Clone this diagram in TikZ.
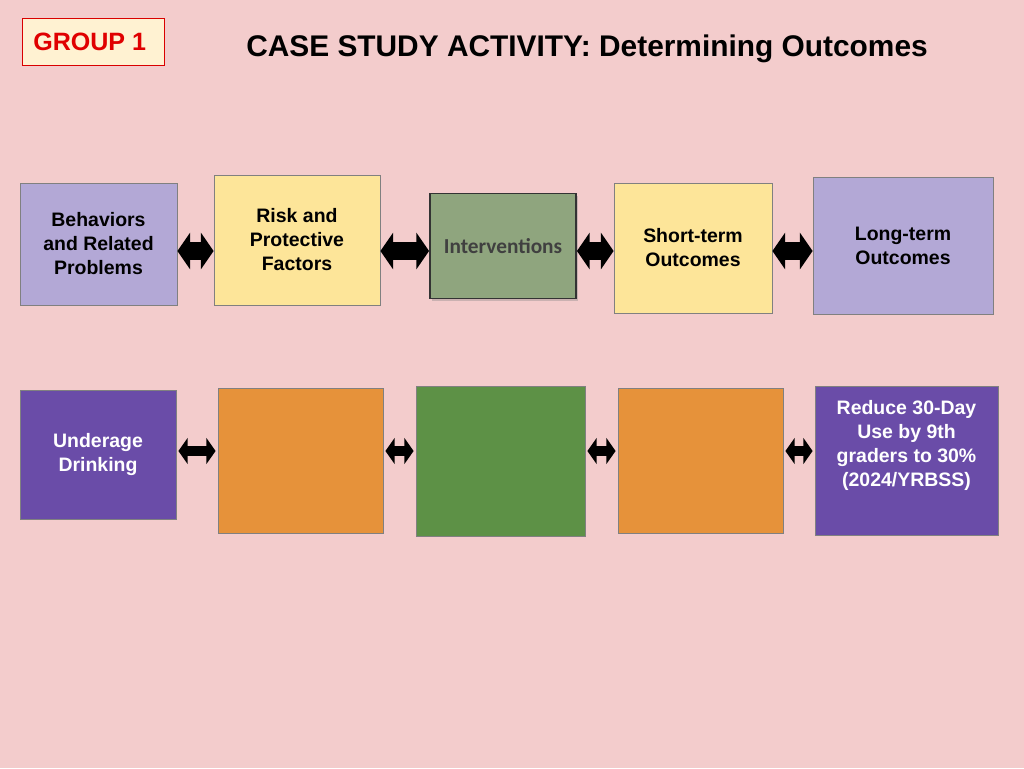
\documentclass[tikz,border=0pt]{standalone}
\usepackage{fontspec}
\setmainfont{Liberation Sans}
\newfontfamily\calfont{Carlito}
\usetikzlibrary{arrows.meta,shadows}
\definecolor{bgpink}{HTML}{F3CCCC}
\definecolor{lav}{HTML}{B3A8D6}
\definecolor{yel}{HTML}{FDE599}
\definecolor{sage}{HTML}{8FA57E}
\definecolor{purp}{HTML}{6A4CA8}
\definecolor{orng}{HTML}{E6923A}
\definecolor{grn}{HTML}{5D9146}
\definecolor{cream}{HTML}{FFF2D2}
\definecolor{redtxt}{HTML}{E00000}
\definecolor{edge}{HTML}{808080}
\begin{document}
\begin{tikzpicture}[x=0.75pt,y=-0.75pt,
  box/.style={draw=edge,line width=0.6pt,align=center,inner sep=2pt,
    font=\fontsize{14.6}{18}\selectfont\bfseries},
  bigarrow/.style={line width=13.5pt,{Triangle[width=27pt,length=9.5pt]}-{Triangle[width=27pt,length=9.5pt]}},
  smallarrow/.style={line width=8pt,{Triangle[width=19.5pt,length=7pt]}-{Triangle[width=19.5pt,length=7pt]},shorten <=1.5pt,shorten >=1.5pt}]
\fill[bgpink] (0,0) rectangle (1024,768);
\useasboundingbox (0,0) rectangle (1024,768);
% header
\node[draw=red!85!black,fill=cream,line width=0.6pt,minimum width=106.5pt,minimum height=35.25pt,
  text=redtxt,font=\fontsize{18.8}{20}\selectfont\bfseries] (grp) at (93,41.5) {GROUP 1\hspace*{5pt}};
\node[font=\fontsize{22.4}{26}\selectfont\bfseries] (title) at (587,49) {CASE STUDY ACTIVITY: Determining Outcomes};
% top row
\node[box,fill=lav,minimum width=117.75pt,minimum height=91.5pt] (beh) at (98.5,244) {Behaviors\\and Related\\Problems};
\node[box,fill=yel,minimum width=124.5pt,minimum height=97.5pt] (risk) at (297,240) {Risk and\\Protective\\Factors};
\node[draw=black!80,line width=1.4pt,fill=sage,minimum width=109.5pt,minimum height=78.75pt,
  drop shadow={shadow xshift=1.5pt,shadow yshift=-1.5pt,opacity=0.35},
  text=black!75,font=\calfont\fontsize{16}{18}\selectfont\bfseries] (int) at (503,246) {Interventions};
\node[box,fill=yel,minimum width=118.5pt,minimum height=97.5pt] (sto) at (693,248) {Short-term\\Outcomes};
\node[box,fill=lav,minimum width=135pt,minimum height=102.75pt] (lto) at (903,245.5) {Long-term\\Outcomes};
\coordinate (r1) at (0,251);
\draw[bigarrow] (beh.east |- r1) -- (risk.west |- r1);
\draw[bigarrow] (risk.east |- r1) -- (int.west |- r1);
\draw[bigarrow] (int.east |- r1) -- (sto.west |- r1);
\draw[bigarrow] (sto.east |- r1) -- (lto.west |- r1);
% bottom row
\node[box,fill=purp,text=white,minimum width=117pt,minimum height=96.75pt] (und) at (98,454.5) {Underage\\Drinking};
\node[box,fill=orng,minimum width=123.75pt,minimum height=108.75pt] (or1) at (300.5,460.5) {};
\node[box,fill=grn,minimum width=126.75pt,minimum height=112.5pt] (gr) at (500.5,461) {};
\node[box,fill=orng,minimum width=123.75pt,minimum height=108.75pt] (or2) at (700.5,460.5) {};
\node[box,fill=purp,minimum width=137.25pt,minimum height=111.75pt] (red) at (906.5,460.5) {};
\node[text=white,align=center,font=\fontsize{14.6}{18}\selectfont\bfseries,anchor=north] (redtxt) at (906.5,396)
  {Reduce 30-Day\\Use by 9th\\graders to 30\%\\(2024/YRBSS)};
\coordinate (r2) at (0,451);
\draw[smallarrow] (und.east |- r2) -- (or1.west |- r2);
\draw[smallarrow] (or1.east |- r2) -- (gr.west |- r2);
\draw[smallarrow] (gr.east |- r2) -- (or2.west |- r2);
\draw[smallarrow] (or2.east |- r2) -- (red.west |- r2);
\end{tikzpicture}
\end{document}
